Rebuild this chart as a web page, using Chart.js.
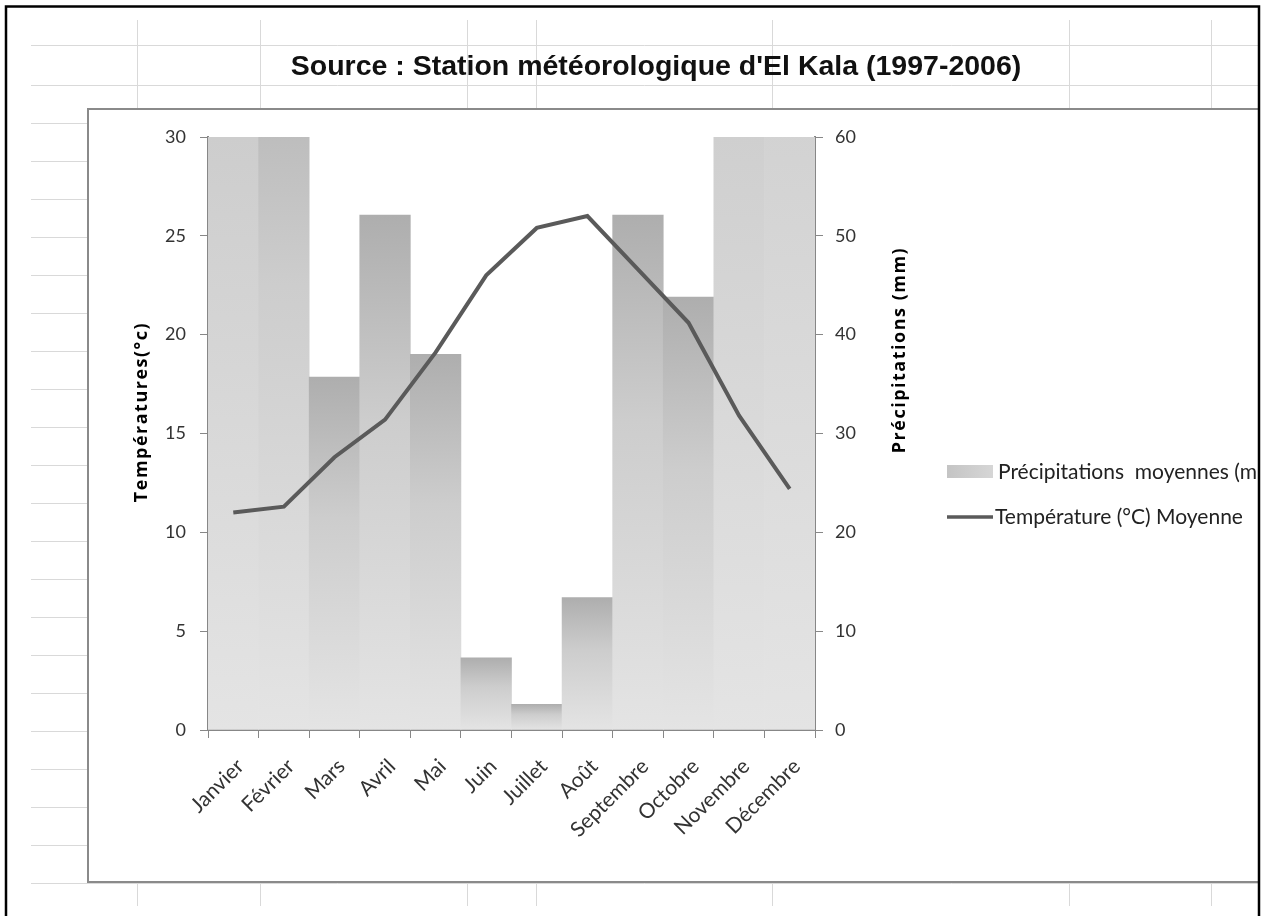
<!DOCTYPE html>
<html><head><meta charset="utf-8">
<script src="https://cdn.jsdelivr.net/npm/chart.js@4/dist/chart.umd.min.js"></script>
<style>
html,body{margin:0;padding:0;background:#fff;overflow:hidden}
#wrap{position:relative;width:1261px;height:916px}
canvas{display:block}
</style></head>
<body><div id="wrap"><canvas id="c" width="1261" height="916"></canvas></div>
<script>
const months = ['Janvier','Février','Mars','Avril','Mai','Juin','Juillet','Août','Septembre','Octobre','Novembre','Décembre'];
const precipitation = [100, 75, 35.7, 52.1, 38.0, 7.3, 2.6, 13.4, 52.1, 43.8, 110, 130];
const temperature = [11.0, 11.3, 13.8, 15.7, 19.1, 23.0, 25.4, 26.0, 23.3, 20.6, 15.9, 12.2];
const tempAxis = {min: 0, max: 30, step: 5};
const precipAxis = {min: 0, max: 60, step: 10};
const chartTitle = "Source : Station météorologique d'El Kala (1997-2006)";
const leftAxisTitle = 'Températures(°c)';
const rightAxisTitle = 'Précipitations (mm)';
const precipLabel = 'Précipitations  moyennes (mm)';
const tempLabel = 'Température (°C) Moyenne';

const sheetRows = [45,85,123,161,199,237,275,313,351,389,427,465,503,541,579,617,655,693,731,769,807,845,883];
const sheetCols = [137,260,467,536,772,1069,1211];

const tickFont = {family: 'Lato', size: 18};
const catFont = {family: 'Lato', size: 21};
const axisColor = '#878787';

const backgroundPlugin = {
  id: 'sheet',
  beforeDraw(chart) {
    const c = chart.ctx;
    c.save();
    c.fillStyle = '#ffffff';
    c.fillRect(0, 0, chart.width, chart.height);
    c.strokeStyle = '#d9d9d9';
    c.lineWidth = 1;
    sheetRows.forEach(y => { c.beginPath(); c.moveTo(31, y + 0.5); c.lineTo(1258, y + 0.5); c.stroke(); });
    sheetCols.forEach(x => { c.beginPath(); c.moveTo(x + 0.5, 20); c.lineTo(x + 0.5, 906); c.stroke(); });
    c.fillStyle = '#ffffff';
    c.fillRect(87, 109, 1258 - 87, 882 - 109);
    c.strokeStyle = '#8a8a8a';
    c.lineWidth = 2;
    c.beginPath();
    c.moveTo(1260, 109); c.lineTo(88, 109); c.lineTo(88, 882); c.lineTo(1260, 882);
    c.stroke();
    c.fillStyle = '#111';
    c.font = 'bold 28.5px "Liberation Sans", Arial, sans-serif';
    c.textAlign = 'center';
    c.textBaseline = 'middle';
    c.fillText(chartTitle, 656, 67);
    c.restore();
  },
  afterDraw(chart) {
    const c = chart.ctx;
    c.save();
    c.fillStyle = '#000';
    c.font = 'bold 18px "Open Sans", sans-serif';
    c.letterSpacing = '1.5px';
    c.textAlign = 'center';
    c.textBaseline = 'middle';
    c.save(); c.translate(142, 412); c.rotate(-Math.PI / 2); c.fillText(leftAxisTitle, 0, 0); c.restore();
    c.save(); c.translate(900, 350); c.rotate(-Math.PI / 2); c.fillText(rightAxisTitle, 0, 0); c.restore();
    c.letterSpacing = '0px';
    c.save();
    c.beginPath(); c.rect(0, 0, 1258, chart.height); c.clip();
    const bars = chart.data.datasets.find(d => d.type === 'bar');
    const line = chart.data.datasets.find(d => d.type === 'line');
    const g = c.createLinearGradient(947, 0, 993, 0);
    g.addColorStop(0, '#c4c4c4'); g.addColorStop(1, '#d6d6d6');
    c.fillStyle = g;
    c.fillRect(947, 465, 46, 13);
    c.strokeStyle = line.borderColor;
    c.lineWidth = 3.5;
    c.beginPath(); c.moveTo(947, 517); c.lineTo(993, 517); c.stroke();
    c.fillStyle = '#222';
    c.font = '21px Lato, sans-serif';
    c.textAlign = 'left';
    c.fillText(bars.label, 998, 472);
    c.fillText(line.label, 995, 517);
    c.restore();
    c.strokeStyle = '#000';
    c.lineWidth = 2.5;
    c.beginPath();
    c.moveTo(6, 916); c.lineTo(6, 6.5); c.lineTo(1259, 6.5); c.lineTo(1259, 916);
    c.stroke();
    c.restore();
  }
};

function barGradient(ctx) {
  const chart = ctx.chart;
  if (ctx.type !== 'data' || !chart.chartArea) return '#cccccc';
  const sc = chart.scales.y1;
  const y0 = sc.getPixelForValue(0);
  const yTop = sc.getPixelForValue(ctx.raw);
  const g = chart.ctx.createLinearGradient(0, yTop, 0, y0);
  g.addColorStop(0, '#aeaeae');
  g.addColorStop(0.4, '#cdcdcd');
  g.addColorStop(1, '#e4e4e4');
  return g;
}

new Chart(document.getElementById('c'), {
  data: {
    labels: months,
    datasets: [
      {
        type: 'line',
        label: tempLabel,
        data: temperature,
        yAxisID: 'y',
        borderColor: '#5a5a5a',
        borderWidth: 4,
        pointRadius: 0,
        tension: 0,
        order: 0
      },
      {
        type: 'bar',
        label: precipLabel,
        data: precipitation,
        yAxisID: 'y1',
        backgroundColor: barGradient,
        borderWidth: 0,
        barPercentage: 1,
        categoryPercentage: 1,
        order: 1
      }
    ]
  },
  options: {
    responsive: false,
    devicePixelRatio: 1,
    animation: false,
    layout: {padding: {top: 137, left: 0, right: 0, bottom: 0}},
    plugins: {legend: {display: false}, title: {display: false}, tooltip: {enabled: false}},
    scales: {
      x: {
        grid: {display: true, drawOnChartArea: false, tickLength: 8, color: axisColor, offset: true},
        border: {color: axisColor, width: 2},
        ticks: {font: catFont, color: '#333', minRotation: 45, maxRotation: 45, autoSkip: false, padding: 16, labelOffset: 7},
        afterFit(s) { s.height = 916 - 730; }
      },
      y: {
        position: 'left',
        min: tempAxis.min, max: tempAxis.max,
        ticks: {stepSize: tempAxis.step, font: tickFont, color: '#333', padding: 14},
        grid: {display: true, drawOnChartArea: false, tickLength: 8, color: axisColor},
        border: {color: axisColor, width: 2},
        afterFit(s) { s.width = 208; }
      },
      y1: {
        position: 'right',
        min: precipAxis.min, max: precipAxis.max,
        ticks: {stepSize: precipAxis.step, font: tickFont, color: '#333', padding: 12},
        grid: {display: true, drawOnChartArea: false, tickLength: 8, color: axisColor},
        border: {color: axisColor, width: 2},
        afterFit(s) { s.width = 1261 - 815; }
      }
    }
  },
  plugins: [backgroundPlugin]
});
</script>
</body></html>
